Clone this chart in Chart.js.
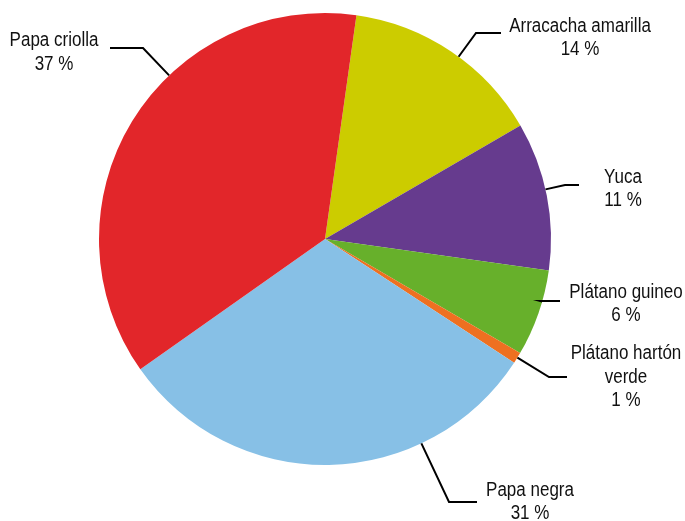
<!DOCTYPE html>
<html>
<head>
<meta charset="utf-8">
<script src="https://cdn.jsdelivr.net/npm/chart.js@4"></script>
<style>
  html, body { margin: 0; padding: 0; background: #fff; }
  #wrap { width: 685px; height: 521px; }
</style>
</head>
<body>
<div id="wrap"><canvas id="myChart"></canvas></div>
<script>
// slice data, clockwise from the top
const categories = ['Arracacha amarilla', 'Yuca', 'Plátano guineo', 'Plátano hartón verde', 'Papa negra', 'Papa criolla'];
const shares = [14.4, 10.6, 6.2, 0.8, 31.0, 37.0];
const sliceColors = ['#CCCC00', '#663B8E', '#67B02B', '#EE7021', '#87C0E6', '#E2262A'];

// label text lines (name may wrap)
const labelLines = [['Arracacha amarilla'], ['Yuca'], ['Plátano guineo'], ['Plátano hartón', 'verde'], ['Papa negra'], ['Papa criolla']];

// where each callout goes: elbow, end of the leader, text centre / first baseline
const callouts = [
  { elbow: [476, 33], end: [501, 33], tx: 580, ty: 31.5 },
  { elbow: [565, 185], end: [579, 185], tx: 623, ty: 182.5 },
  { elbow: [540, 301], end: [560, 301], tx: 626, ty: 297.5 },
  { elbow: [549, 377], end: [567, 377], tx: 626, ty: 359 },
  { elbow: [449, 502], end: [477, 502], tx: 530, ty: 495.5 },
  { elbow: [143, 48], end: [110, 48], tx: 54, ty: 46 }
];

const calloutPlugin = {
  id: 'callouts',
  afterDraw(chart) {
    const ctx = chart.ctx;
    const arcs = chart.getDatasetMeta(0).data;
    const cx = arcs[0].x, cy = arcs[0].y, r = arcs[0].outerRadius;
    const total = shares.reduce((a, b) => a + b, 0);
    ctx.save();
    ctx.strokeStyle = '#000';
    ctx.lineWidth = 2;
    ctx.fillStyle = '#111';
    ctx.font = '20px "Liberation Sans", Arial, sans-serif';
    ctx.textAlign = 'center';
    ctx.textBaseline = 'alphabetic';
    for (let i = 0; i < categories.length; i++) {
      const c = callouts[i];
      const dx = c.elbow[0] - cx, dy = c.elbow[1] - cy;
      const len = Math.sqrt(dx * dx + dy * dy);
      const sx = cx + dx / len * r, sy = cy + dy / len * r;
      ctx.beginPath();
      ctx.moveTo(sx, sy);
      ctx.lineTo(c.elbow[0], c.elbow[1]);
      ctx.lineTo(c.end[0], c.end[1]);
      ctx.stroke();
      const lines = labelLines[i].concat([Math.round(shares[i] / total * 100) + ' %']);
      lines.forEach((t, k) => {
        // condensed look, like the narrow font of the original
        ctx.save();
        ctx.translate(c.tx, c.ty + k * 23.5);
        ctx.scale(0.85, 1);
        ctx.fillText(t, 0, 0);
        ctx.restore();
      });
    }
    ctx.restore();
  }
};

new Chart(document.getElementById('myChart'), {
  type: 'pie',
  data: {
    labels: categories,
    datasets: [{
      data: shares,
      backgroundColor: sliceColors,
      borderWidth: 0
    }]
  },
  options: {
    responsive: true,
    maintainAspectRatio: false,
    animation: false,
    rotation: 8,
    layout: { padding: { top: 13, bottom: 56, left: 50, right: 85 } },
    plugins: {
      legend: { display: false },
      tooltip: { enabled: false }
    }
  },
  plugins: [calloutPlugin]
});
</script>
</body>
</html>
